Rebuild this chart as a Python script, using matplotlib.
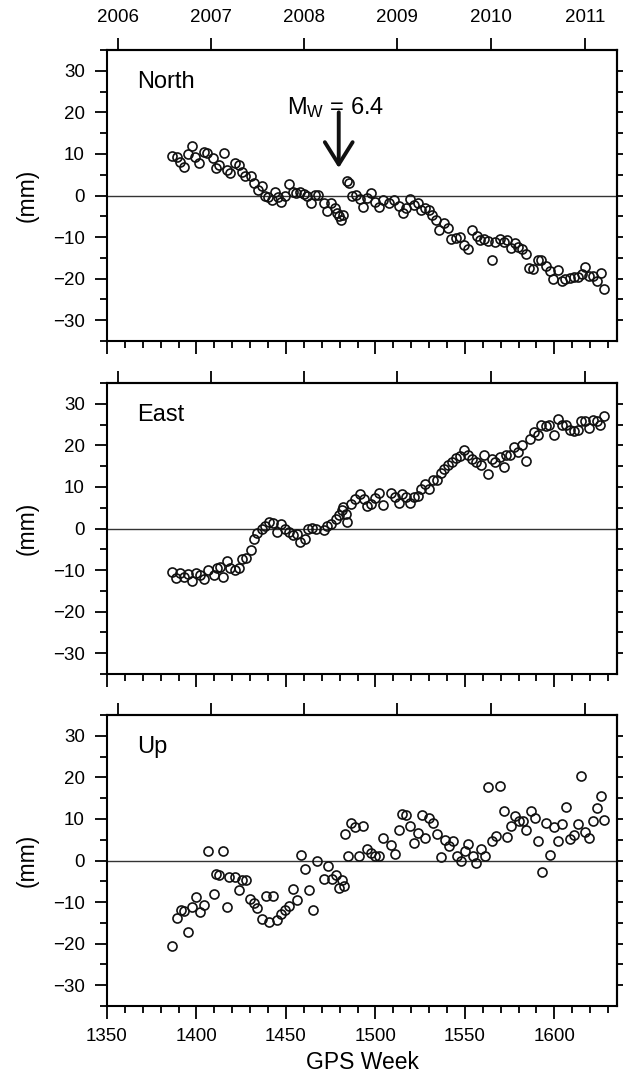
import matplotlib
matplotlib.use('Agg')
import matplotlib.pyplot as plt
from matplotlib.ticker import MultipleLocator, FixedLocator, NullFormatter

plt.rcParams['font.family'] = ['Liberation Sans', 'DejaVu Sans']
plt.rcParams['mathtext.fontset'] = 'custom'
plt.rcParams['mathtext.rm'] = 'Liberation Sans'
plt.rcParams['mathtext.it'] = 'Liberation Sans:italic'

# ---------------- data ----------------
north_week = [1386.2, 1389.0, 1390.9, 1393.0, 1395.3, 1397.5, 1399.0, 1401.5, 1404.0, 1406.0,
              1409.0, 1410.8, 1412.8, 1415.3, 1417.0, 1419.0, 1421.3, 1423.5, 1425.3, 1427.3,
              1430.6, 1432.4, 1434.6, 1436.6, 1438.4, 1440.1, 1442.4, 1443.9, 1445.7, 1447.5,
              1449.2, 1451.9, 1453.9, 1455.5, 1457.7, 1459.9, 1461.7, 1464.0, 1466.1, 1468.0,
              1471.0, 1473.2, 1475.0, 1477.2, 1478.6, 1479.9, 1480.8, 1482.1, 1483.9, 1485.0,
              1487.0, 1489.0, 1491.2, 1493.2, 1495.4, 1497.6, 1499.9, 1501.9, 1504.3, 1507.4,
              1510.5, 1513.0, 1515.2, 1517.2, 1519.4, 1521.6, 1523.8, 1525.6, 1527.8, 1529.8,
              1531.8, 1534.0, 1535.8, 1538.1, 1540.3, 1542.5, 1545.0, 1547.2, 1549.6, 1551.8,
              1554.0, 1556.5, 1558.7, 1560.7, 1563.1, 1565.1, 1567.1, 1569.4, 1571.6, 1573.8,
              1576.0, 1577.8, 1579.8, 1582.0, 1584.2, 1586.0, 1588.2, 1590.9, 1592.7, 1595.1,
              1597.3, 1599.3, 1602.0, 1604.0, 1606.2, 1608.6, 1610.7, 1613.1, 1615.3, 1617.1,
              1619.3, 1621.5, 1623.8, 1626.0, 1627.8]
north_mm = [9.5, 9.3, 8.1, 6.9, 9.9, 11.8, 9.2, 7.9, 10.4, 10.3,
            9.1, 6.7, 7.3, 10.3, 6.2, 5.3, 7.7, 7.4, 5.6, 4.7,
            4.7, 3.1, 1.3, 2.2, -0.2, -0.4, -1.0, 0.8, -0.3, -1.6,
            0.0, 2.8, 0.8, 0.6, 0.8, 0.4, -0.2, -1.8, 0.2, 0.1,
            -1.8, -3.8, -1.8, -3.0, -4.2, -5.0, -5.8, -4.8, 3.5, 3.1,
            -0.2, 0.2, -0.8, -2.7, -0.6, 0.6, -1.6, -2.7, -1.0, -1.8,
            -1.0, -2.6, -4.2, -3.0, -0.8, -2.2, -1.8, -3.5, -3.0, -3.4,
            -4.8, -5.9, -8.2, -6.6, -7.8, -10.4, -10.2, -10.0, -11.8, -12.9,
            -8.4, -9.8, -10.8, -10.4, -11.0, -15.4, -11.2, -10.4, -11.2, -10.8,
            -12.6, -11.4, -12.4, -12.9, -14.0, -17.4, -17.7, -15.6, -15.4, -17.0,
            -18.2, -20.1, -18.0, -20.6, -20.1, -19.8, -19.6, -19.7, -18.8, -17.3,
            -19.3, -19.4, -20.6, -18.6, -22.4]

east_week = [1386.2, 1388.4, 1390.6, 1392.9, 1395.1, 1397.3, 1399.5, 1401.7, 1404.2, 1406.2,
             1410.0, 1411.7, 1413.1, 1415.1, 1416.8, 1419.0, 1421.3, 1423.5, 1425.3, 1427.5,
             1430.2, 1432.2, 1434.0, 1436.4, 1438.4, 1440.6, 1443.0, 1445.0, 1447.5, 1449.5,
             1451.9, 1454.1, 1456.1, 1457.9, 1460.8, 1462.1, 1464.3, 1466.6, 1471.0, 1473.2,
             1475.0, 1477.7, 1479.9, 1481.2, 1482.1, 1483.4, 1484.3, 1486.5, 1488.8, 1491.2,
             1493.4, 1495.4, 1497.6, 1499.9, 1502.1, 1504.3, 1508.8, 1511.0, 1513.0, 1515.0,
             1517.2, 1519.4, 1521.6, 1523.8, 1525.6, 1527.8, 1530.1, 1532.0, 1534.3, 1536.5,
             1538.5, 1540.5, 1542.7, 1544.9, 1547.2, 1549.4, 1551.6, 1553.8, 1556.0, 1558.9,
             1560.7, 1563.1, 1564.9, 1567.1, 1569.4, 1571.6, 1573.1, 1575.4, 1577.6, 1579.8,
             1582.0, 1584.2, 1586.5, 1588.7, 1590.9, 1592.7, 1595.1, 1597.1, 1599.8, 1602.0,
             1604.2, 1606.4, 1608.6, 1610.9, 1613.1, 1614.9, 1617.1, 1619.3, 1621.5, 1623.8,
             1625.5, 1627.8]
east_mm = [-10.4, -12.0, -10.6, -11.6, -11.0, -12.6, -10.6, -11.2, -12.2, -10.0,
           -11.2, -9.4, -9.2, -11.6, -7.8, -9.6, -10.0, -9.4, -7.4, -7.2,
           -5.2, -2.6, -1.0, 0.0, 0.6, 1.6, 1.4, -0.8, 1.0, -0.2,
           -0.8, -1.6, -1.4, -3.2, -2.6, -0.2, 0.2, 0.0, -0.4, 0.6,
           1.2, 2.2, 3.2, 4.4, 5.2, 3.6, 1.6, 5.8, 7.2, 8.2,
           7.0, 5.4, 6.0, 7.4, 8.6, 5.6, 8.6, 7.6, 6.2, 8.2,
           7.6, 6.2, 7.6, 7.8, 9.4, 10.6, 9.6, 11.6, 11.6, 13.4,
           14.4, 15.2, 16.0, 17.0, 17.4, 18.8, 17.8, 16.6, 16.0, 15.2,
           17.8, 13.2, 16.8, 16.0, 17.2, 14.8, 17.8, 17.8, 19.6, 18.4,
           20.0, 16.2, 21.6, 23.2, 22.6, 25.0, 24.6, 25.0, 22.6, 26.4,
           25.0, 25.0, 23.8, 23.4, 23.8, 25.8, 25.8, 24.2, 26.2, 25.8,
           25.0, 27.0]

up_week = [1386.6, 1388.9, 1391.1, 1393.3, 1395.3, 1397.5, 1399.5, 1401.7, 1404.0, 1406.6,
           1410.0, 1411.1, 1412.8, 1415.1, 1416.8, 1418.4, 1421.3, 1423.5, 1425.3, 1427.5,
           1429.7, 1432.0, 1434.1, 1436.4, 1439.0, 1440.8, 1443.0, 1445.2, 1447.5, 1449.7,
           1451.9, 1454.1, 1456.3, 1458.6, 1460.8, 1462.8, 1465.2, 1467.2, 1471.2, 1473.4,
           1475.9, 1477.9, 1479.9, 1481.2, 1482.5, 1483.2, 1484.5, 1486.3, 1488.8, 1491.0,
           1493.2, 1495.4, 1497.6, 1499.9, 1502.1, 1504.3, 1508.8, 1511.0, 1513.0, 1515.0,
           1517.2, 1519.4, 1521.6, 1523.8, 1526.0, 1527.8, 1530.1, 1532.3, 1534.5, 1536.7,
           1538.9, 1541.2, 1543.4, 1545.6, 1547.8, 1550.0, 1551.8, 1554.5, 1556.3, 1558.9,
           1561.0, 1563.0, 1565.2, 1567.4, 1569.6, 1571.8, 1573.8, 1575.8, 1578.1, 1580.3,
           1582.5, 1584.2, 1586.7, 1588.9, 1591.1, 1593.1, 1595.3, 1597.6, 1599.8, 1602.0,
           1604.2, 1606.5, 1608.7, 1610.9, 1613.1, 1614.9, 1617.1, 1619.3, 1621.5, 1623.8,
           1626.0, 1627.8]
up_mm = [-20.6, -13.8, -11.8, -12.2, -17.2, -11.2, -8.8, -12.4, -10.8, 2.4,
         -8.0, -3.2, -3.4, 2.2, -11.2, -4.0, -4.0, -7.2, -4.6, -4.6,
         -9.2, -10.2, -11.4, -14.0, -8.6, -14.8, -8.6, -14.2, -12.8, -11.8,
         -11.0, -6.8, -9.6, 1.4, -2.0, -7.0, -11.8, 0.0, -4.4, -1.4,
         -4.4, -3.6, -6.6, -4.6, -6.2, 6.4, 1.0, 9.0, 8.0, 1.2,
         8.2, 2.8, 1.8, 1.0, 1.0, 5.4, 3.8, 1.6, 7.4, 11.2,
         11.0, 8.2, 4.2, 6.6, 11.0, 5.4, 10.2, 9.0, 6.4, 0.8,
         5.0, 3.6, 4.8, 1.0, 0.0, 2.4, 4.0, 1.0, -0.6, 2.8,
         1.2, 17.8, 4.6, 5.8, 18.0, 11.8, 5.6, 8.4, 10.6, 9.4,
         9.6, 7.4, 11.8, 10.2, 4.6, -2.8, 9.0, 1.4, 8.0, 4.6,
         8.8, 12.8, 5.2, 6.2, 8.8, 20.4, 6.8, 5.4, 9.4, 12.6,
         15.6, 9.8]

panel_names = ['North', 'East', 'Up']
year_labels = ['2006', '2007', '2008', '2009', '2010', '2011']
year_ticks_week = [1356.2, 1407.9, 1460.1, 1512.3, 1564.5, 1617.1]
quake_week = 1479.5
quake_label = r'M$_{\rm W}$ = 6.4'

# ---------------- figure ----------------
fig = plt.figure(figsize=(6.23, 10.78), dpi=100)
left, width = 107 / 623, 510 / 623
bottoms = [1 - 341 / 1078, 1 - 674 / 1078, 1 - 1006 / 1078]
height = 291 / 1078

series = [(north_week, north_mm), (east_week, east_mm), (up_week, up_mm)]
spine_lw = 1.5
tick_fs = 13.5
label_fs = 16.5

for i, (name, (wk, mm), b) in enumerate(zip(panel_names, series, bottoms)):
    ax = fig.add_axes([left, b, width, height])
    ax.set_xlim(1350, 1635)
    ax.set_ylim(-35, 35)
    ax.axhline(0, color='#333333', lw=1.0, zorder=1)
    ax.plot(wk, mm, linestyle='none', marker='o', markersize=6.5,
            markerfacecolor='none', markeredgecolor='#111111', markeredgewidth=1.2, zorder=3)

    for s in ax.spines.values():
        s.set_linewidth(spine_lw)

    ax.xaxis.set_major_locator(MultipleLocator(50))
    ax.xaxis.set_minor_locator(MultipleLocator(10))
    ax.yaxis.set_major_locator(MultipleLocator(10))
    ax.yaxis.set_minor_locator(MultipleLocator(5))
    ax.tick_params(axis='both', which='major', direction='out', length=9, width=1.3,
                   labelsize=tick_fs, pad=7, top=False, right=False)
    ax.tick_params(axis='both', which='minor', direction='out', length=5, width=1.3,
                   top=False, right=False)
    ax.set_yticks([-30, -20, -10, 0, 10, 20, 30])
    if i < 2:
        ax.tick_params(axis='x', which='both', labelbottom=False)
    else:
        ax.set_xlabel('GPS Week', fontsize=label_fs, labelpad=4)

    ax.set_ylabel('(mm)', fontsize=label_fs, labelpad=10)

    # right-side ticks every 5 mm
    ry = ax.secondary_yaxis('right')
    ry.yaxis.set_major_locator(FixedLocator(list(range(-30, 31, 5))))
    ry.yaxis.set_major_formatter(NullFormatter())
    ry.tick_params(direction='out', length=5, width=1.3)
    ry.spines['right'].set_linewidth(spine_lw)

    # top axis: calendar years
    tx = ax.secondary_xaxis('top')
    tx.set_xticks(year_ticks_week)
    tx.spines['top'].set_linewidth(spine_lw)
    if i == 0:
        tx.set_xticklabels(year_labels)
        tx.tick_params(direction='out', length=9, width=1.3, labelsize=tick_fs, pad=8)
    else:
        tx.set_xticklabels([''] * len(year_labels))
        tx.tick_params(direction='out', length=9, width=1.3)

    ax.text(0.059, 0.87, name, transform=ax.transAxes, fontsize=17, ha='left', va='baseline')

    if i == 0:
        ax.annotate('', xy=(quake_week, 6.6), xytext=(quake_week, 20.0),
                    arrowprops=dict(arrowstyle='->,head_length=0.8,head_width=0.5',
                                    lw=2.8, color='#111111', mutation_scale=20,
                                    shrinkA=0, shrinkB=0))
        ax.text(quake_week - 2, 19.6, quake_label, fontsize=17, ha='center', va='baseline')

fig.savefig('out.png', dpi=100, facecolor='white')
